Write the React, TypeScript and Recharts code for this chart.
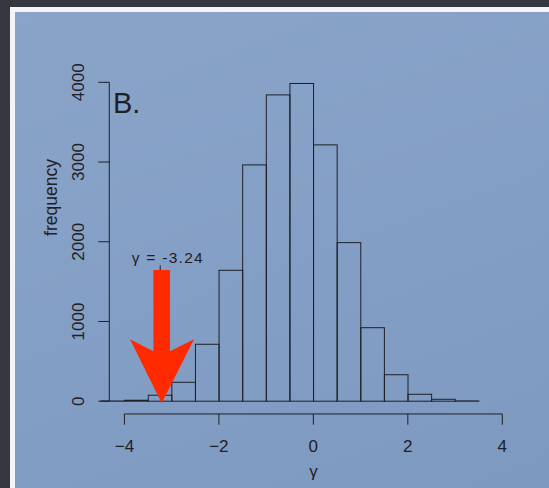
import React from 'react';
import { ComposedChart, Bar, XAxis, YAxis, ReferenceLine, ReferenceDot } from 'recharts';

// ---- data ----
const binStarts = [-4.5, -4, -3.5, -3, -2.5, -2, -1.5, -1, -0.5, 0, 0.5, 1, 1.5, 2, 2.5, 3];
const binCounts = [3, 12, 75, 237, 714, 1642, 2964, 3842, 3985, 3215, 1989, 922, 332, 87, 24, 4];
const BIN_WIDTH = 0.5;
const xTicks = [-4, -2, 0, 2, 4];
const yTicks = [0, 1000, 2000, 3000, 4000];
const xDomain: [number, number] = [-4.32, 4.32];
const yDomain: [number, number] = [0, 4000];
const xAxisLineY = -160;
const observedGamma = -3.24;
const observedLabel = 'γ = -3.24';
const panelLabel = 'B.';
const xTitle = 'γ';
const yTitle = 'frequency';

const data = binStarts.map((s, i) => ({ mid: s + BIN_WIDTH / 2, count: binCounts[i] }));

// ---- layout ----
const W = 549;
const H = 488;
const Y_AXIS_W = 60;
const X_AXIS_H = 60;
const margin = { top: 82.3, right: 31.6, bottom: 26.8, left: 49.3 };
const plotW = W - margin.left - margin.right - Y_AXIS_W;
const pxPerUnit = plotW / (xDomain[1] - xDomain[0]);
const binPx = BIN_WIDTH * pxPerUnit;

const INK = '#1f2026';
const FONT = '"Liberation Sans", Arial, Helvetica, sans-serif';
const RED = '#ff2a00';

const fmt = (v: number) => (v < 0 ? `\u2212${Math.abs(v)}` : `${v}`);

const XTick = (props: any) => {
  const { x, y, payload } = props;
  return (
    <g>
      <line x1={x} x2={x} y1={y + 12.7} y2={y + 23.5} stroke={INK} strokeWidth={1} />
      <text x={x} y={y + 51} textAnchor="middle" fontSize={17} fontFamily={FONT} fill={INK}>
        {fmt(payload.value)}
      </text>
    </g>
  );
};

const YTick = (props: any) => {
  const { x, y, payload } = props;
  const tx = x - 14;
  return (
    <text
      x={tx}
      y={y}
      transform={`rotate(-90, ${tx}, ${y})`}
      textAnchor="middle"
      fontSize={17}
      fontFamily={FONT}
      fill={INK}
    >
      {fmt(payload.value)}
    </text>
  );
};

// histogram bin: full bin width centred on the bar's scaled position
const BinShape = (props: any) => {
  const { x, y, width, height } = props;
  if (x == null || y == null) return null;
  const cx = x + width / 2;
  const h = Math.max(0, height);
  return (
    <rect
      x={cx - binPx / 2}
      y={y}
      width={binPx}
      height={h}
      fill="none"
      stroke={INK}
      strokeWidth={1}
    />
  );
};

const ArrowShape = (props: any) => {
  const { cx, cy } = props;
  const x = cx + 1.4;
  const y = cy + 2;
  const pts = [
    [0, 0],
    [32.3, -64],
    [8.3, -52],
    [8.3, -133.3],
    [-8.3, -133.3],
    [-8.3, -52],
    [-31.7, -64],
  ]
    .map(([dx, dy]) => `${x + dx},${y + dy}`)
    .join(' ');
  return (
    <g>
      <line x1={x - 1.5} x2={x - 1.5} y1={y - 138} y2={y - 133} stroke={INK} strokeWidth={1} />
      <polygon points={pts} fill={RED} stroke="none" />
      <text
        x={x + 5.5}
        y={y - 140}
        textAnchor="middle"
        fontSize={15.5}
        fontFamily={FONT}
        fill={INK}
        textLength={71}
        lengthAdjust="spacing"
      >
        {observedLabel}
      </text>
    </g>
  );
};

export default function App() {
  return (
    <div
      style={{
        position: 'absolute',
        left: 0,
        top: 0,
        width: W,
        height: H,
        background: '#353841',
        overflow: 'hidden',
      }}
    >
      <div
        style={{
          position: 'absolute',
          left: 10,
          top: 7,
          right: -10,
          bottom: -10,
          borderLeft: '5px solid #f3f4f6',
          borderTop: '5px solid #f3f4f6',
          background: 'linear-gradient(160deg, #8aa4c9 0%, #849fc5 50%, #7e99c0 100%)',
        }}
      />
      <div style={{ position: 'absolute', left: 0, top: 0 }}>
        <ComposedChart
          width={W}
          height={H}
          data={data}
          margin={margin}
          barCategoryGap={0}
          barGap={0}
        >
          <XAxis
            dataKey="mid"
            type="number"
            domain={xDomain}
            ticks={xTicks}
            height={X_AXIS_H}
            axisLine={false}
            tickLine={false}
            tickSize={0}
            tickMargin={0}
            tick={<XTick />}
            interval={0}
          />
          <YAxis
            type="number"
            domain={yDomain}
            ticks={yTicks}
            width={Y_AXIS_W}
            axisLine={{ stroke: INK, strokeWidth: 1 }}
            tickLine={{ stroke: INK, strokeWidth: 1 }}
            tickSize={11}
            tickMargin={0}
            tick={<YTick />}
            interval={0}
          />
          <Bar
            dataKey="count"
            fill="none"
            stroke={INK}
            strokeWidth={1}
            shape={(p: any) => <BinShape {...p} />}
            isAnimationActive={false}
          />
          <ReferenceLine
            segment={[
              { x: xTicks[0], y: xAxisLineY },
              { x: xTicks[xTicks.length - 1], y: xAxisLineY },
            ]}
            stroke={INK}
            strokeWidth={1}
            ifOverflow="visible"
          />
          <ReferenceDot
            x={observedGamma}
            y={0}
            ifOverflow="visible"
            shape={(p: any) => <ArrowShape {...p} />}
          />
        </ComposedChart>
      </div>
      <svg
        width={W}
        height={H}
        style={{ position: 'absolute', left: 0, top: 0, pointerEvents: 'none' }}
      >
        <text x={113} y={112.7} fontSize={29} fontFamily={FONT} fill={INK}>
          {panelLabel}
        </text>
        <text
          x={56.5}
          y={197.5}
          transform="rotate(-90, 56.5, 197.5)"
          textAnchor="middle"
          fontSize={17.5}
          fontFamily={FONT}
          fill={INK}
        >
          {yTitle}
        </text>
        <text x={313.5} y={477} textAnchor="middle" fontSize={17} fontFamily={FONT} fill={INK}>
          {xTitle}
        </text>
      </svg>
    </div>
  );
}
